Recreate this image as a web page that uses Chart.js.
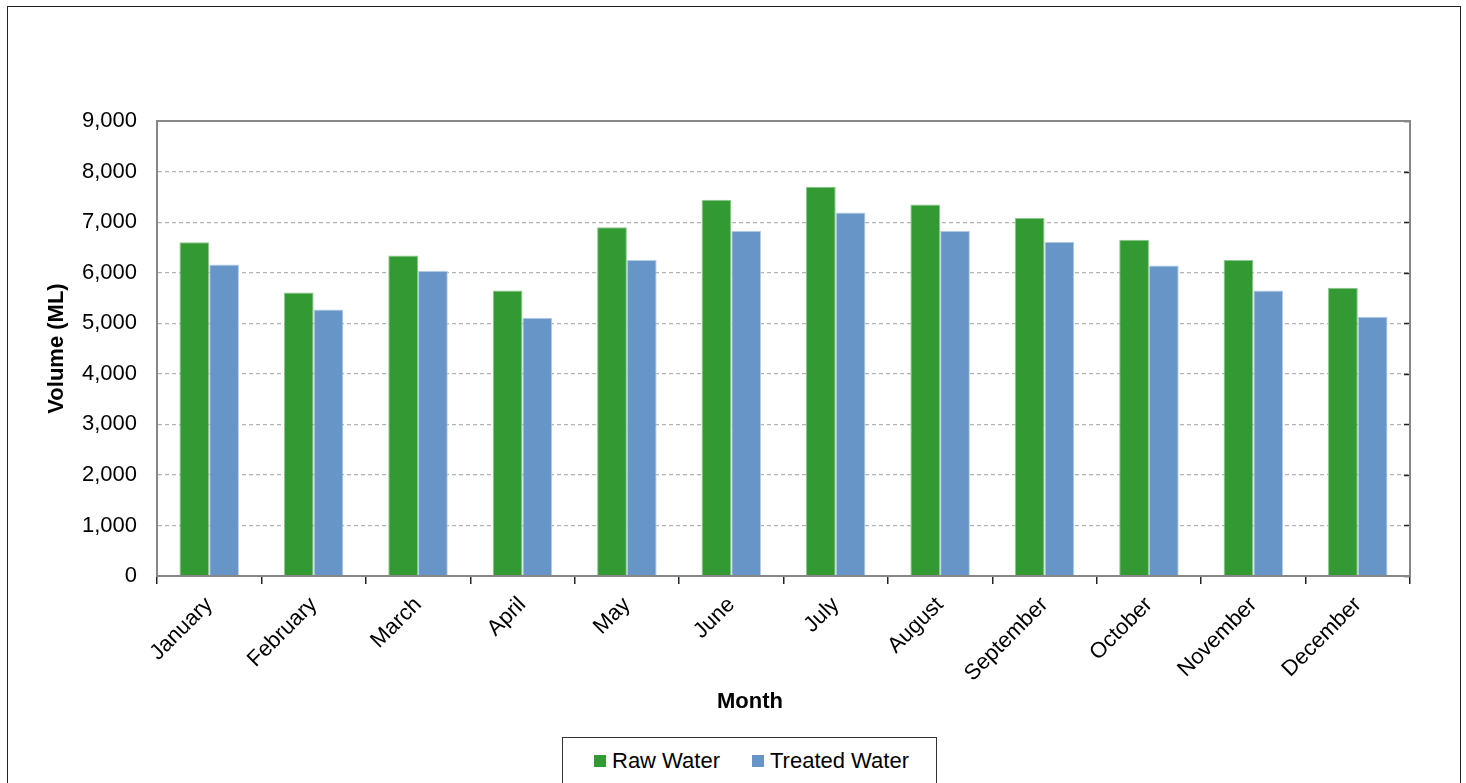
<!DOCTYPE html>
<html>
<head>
<meta charset="utf-8">
<script src="https://cdn.jsdelivr.net/npm/chart.js@4"></script>
<style>
  body { margin: 0; background: #fff; font-family: "Liberation Sans", Arial, sans-serif; }
  #wrap { position: relative; width: 1466px; height: 783px; overflow: hidden; }
  #frame { position: absolute; left: 7px; top: 6px; width: 1452px; height: 790px; border: 1.5px solid #222; }
  #legend { position: absolute; left: 562px; top: 737px; width: 373px; height: 60px; border: 1.5px solid #333;
            background: #fff; font-size: 22px; color: #000; }
  #xnaslov { position: absolute; left: 650px; width: 200px; top: 688px; text-align: center;
             font-size: 22px; font-weight: bold; color: #000; }
  .item { position: absolute; top: 10px; white-space: nowrap; }
  .box { display: inline-block; width: 12px; height: 12px; margin-right: 6px; vertical-align: 1px; }
  canvas { position: absolute; left: 0; top: 0; }
</style>
</head>
<body>
<div id="wrap">
  <div id="frame"></div>
  <canvas id="graf" width="1466" height="783"></canvas>
  <div id="xnaslov">Month</div>
  <div id="legend"></div>
</div>
<script>
var mjeseci = ['January', 'February', 'March', 'April', 'May', 'June', 'July',
               'August', 'September', 'October', 'November', 'December'];
var rawWater = [6600, 5610, 6340, 5645, 6900, 7440, 7700, 7350, 7080, 6650, 6250, 5700];
var treatedWater = [6160, 5270, 6040, 5110, 6250, 6830, 7190, 6830, 6610, 6140, 5645, 5130];
var yTicks = [0, 1000, 2000, 3000, 4000, 5000, 6000, 7000, 8000, 9000];

const boje = {
    raw:     { fill: '#339933', rub: '#8cc88c' },
    treated: { fill: '#6795c8', rub: '#b4cde8' }
};

// okvir oko podrucja grafa + kratke crtice na desnoj strani
const okvirPlugin = {
    id: 'okvir',
    afterDraw(chart) {
        const a = chart.chartArea;
        const ctx = chart.ctx;
        const y = chart.scales.y;
        ctx.save();
        ctx.strokeStyle = '#222';
        ctx.lineWidth = 1.5;
        yTicks.forEach(t => {
            const py = Math.round(y.getPixelForValue(t)) + 0.5;
            ctx.beginPath();
            ctx.moveTo(a.right - 6, py);
            ctx.lineTo(a.right, py);
            ctx.stroke();
        });
        ctx.strokeStyle = '#878787';
        ctx.lineWidth = 2;
        ctx.strokeRect(a.left, a.top, a.right - a.left, a.bottom - a.top);
        ctx.restore();
    }
};

var ctx = document.getElementById('graf').getContext('2d');
var myChart = new Chart(ctx, {
    type: 'bar',
    data: {
        labels: mjeseci,
        datasets: [{
            label: 'Raw Water',
            data: rawWater,
            backgroundColor: boje.raw.fill,
            borderColor: boje.raw.rub,
            borderWidth: 1
        }, {
            label: 'Treated Water',
            data: treatedWater,
            backgroundColor: boje.treated.fill,
            borderColor: boje.treated.rub,
            borderWidth: 1
        }]
    },
    options: {
        responsive: false,
        animation: false,
        layout: { padding: { left: 44, right: 56, top: 121, bottom: 70 } },
        datasets: { bar: { categoryPercentage: 0.57, barPercentage: 1.0 } },
        plugins: { legend: { display: false }, tooltip: { enabled: false } },
        scales: {
            x: {
                grid: { drawOnChartArea: false, drawTicks: true, tickLength: 8, color: '#222', lineWidth: 1.5 },
                border: { display: true, color: '#878787', width: 2 },
                ticks: { color: '#000', font: { family: 'Liberation Sans', size: 22 },
                         minRotation: 45, maxRotation: 45, padding: 8, autoSkip: false },
                afterFit: function(scale) { scale.height = 137; }
            },
            y: {
                min: 0, max: 9000,
                afterBuildTicks: function(scale) { scale.ticks = yTicks.map(v => ({ value: v })); },
                grid: { drawTicks: false, color: '#b3b3b3', lineWidth: 1.2 },
                border: { display: true, color: '#878787', width: 2, dash: [4, 3] },
                ticks: { color: '#000', padding: 20, font: { family: 'Liberation Sans', size: 22 },
                         callback: v => v.toLocaleString('en-US') },
                title: { display: true, text: 'Volume (ML)', color: '#000', padding: 0,
                         font: { family: 'Liberation Sans', size: 22, weight: 'bold' } },
                afterFit: function(scale) { scale.width = 113; }
            }
        }
    },
    plugins: [okvirPlugin]
});

// legenda u okviru ispod grafa
var legenda = document.getElementById('legend');
var pozicije = [31, 189];
myChart.data.datasets.forEach((ds, i) => {
    var el = document.createElement('span');
    el.className = 'item';
    el.style.left = pozicije[i] + 'px';
    el.innerHTML = '<span class="box" style="background:' + ds.backgroundColor + '"></span>' + ds.label;
    legenda.appendChild(el);
});
</script>
</body>
</html>
